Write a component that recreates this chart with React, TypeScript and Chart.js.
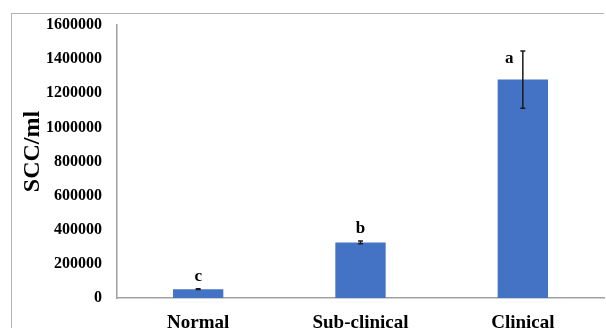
import React, { useEffect, useRef } from "react";
import { Chart, registerables } from "chart.js";

Chart.register(...registerables);

const categories = ["Normal", "Sub-clinical", "Clinical"];
const sccValues = [52000, 326000, 1280000];
const sccErrors = [2500, 8000, 168000];
const groupLetters = ["c", "b", "a"];
const yTickMax = 1600000;
const yTickStep = 200000;
const axisTitle = "SCC/ml";

const FONT = "'Liberation Serif', 'Times New Roman', serif";

const extrasPlugin = {
  id: "extras",
  afterDatasetsDraw(chart: any) {
    const { ctx, chartArea } = chart;
    const meta = chart.getDatasetMeta(0);
    const y = chart.scales.y;
    ctx.save();
    // error bars
    ctx.strokeStyle = "#1a1a1a";
    ctx.lineWidth = 1.5;
    meta.data.forEach((bar: any, i: number) => {
      const x = bar.x;
      const top = y.getPixelForValue(sccValues[i] + sccErrors[i]);
      const bot = y.getPixelForValue(sccValues[i] - sccErrors[i]);
      ctx.beginPath();
      ctx.moveTo(x, top);
      ctx.lineTo(x, bot);
      ctx.moveTo(x - 2.5, top);
      ctx.lineTo(x + 2.5, top);
      ctx.moveTo(x - 2.5, bot);
      ctx.lineTo(x + 2.5, bot);
      ctx.stroke();
    });
    // letters
    ctx.fillStyle = "#000";
    ctx.font = `bold 17px ${FONT}`;
    ctx.textAlign = "center";
    ctx.textBaseline = "alphabetic";
    meta.data.forEach((bar: any, i: number) => {
      const top = y.getPixelForValue(sccValues[i] + sccErrors[i]);
      const bot = y.getPixelForValue(sccValues[i] - sccErrors[i]);
      if (bot - top > 30) {
        ctx.fillText(groupLetters[i], bar.x - 13.5, top + 12);
      } else {
        ctx.fillText(groupLetters[i], bar.x, top - 8);
      }
    });
    // axis title
    ctx.font = `bold 24px ${FONT}`;
    ctx.textBaseline = "middle";
    ctx.translate(chartArea.left - 84, (chartArea.top + chartArea.bottom) / 2 - 10);
    ctx.rotate(-Math.PI / 2);
    ctx.fillText(axisTitle, 0, 0);
    ctx.restore();
  },
};

export default function App() {
  const ref = useRef<HTMLCanvasElement>(null);
  useEffect(() => {
    if (!ref.current) return;
    const chart = new Chart(ref.current, {
      type: "bar",
      data: {
        labels: categories,
        datasets: [
          {
            data: sccValues,
            backgroundColor: "#4472C4",
            borderWidth: 0,
            categoryPercentage: 1,
            barPercentage: 0.31,
          },
        ],
      },
      options: {
        responsive: false,
        animation: false,
        devicePixelRatio: 1,
        layout: { padding: { left: 0, top: 25, right: 2, bottom: 0 } },
        plugins: { legend: { display: false }, tooltip: { enabled: false } },
        scales: {
          x: {
            grid: { display: false, drawTicks: false },
            border: { display: true, color: "#a0a0a0", width: 1.5 },
            ticks: {
              color: "#000",
              font: { family: FONT, size: 19, weight: "bold" },
              padding: 14,
            },
            afterFit: (s: any) => {
              s.height = 30;
            },
          },
          y: {
            min: 0,
            max: yTickMax,
            grid: { display: false, drawTicks: false },
            border: { display: true, color: "#a0a0a0", width: 1.5 },
            ticks: {
              stepSize: yTickStep,
              color: "#000",
              font: { family: FONT, size: 16, weight: "bold" },
              padding: 15,
              callback: (v: any) => String(v),
            },
            afterFit: (s: any) => {
              s.width = 117;
            },
          },
        },
      },
      plugins: [extrasPlugin],
    });
    return () => chart.destroy();
  }, []);

  return (
    <div style={{ position: "absolute", left: 0, top: 0, width: 606, height: 328, overflow: "hidden", background: "#fff" }}>
      <div
        style={{
          position: "absolute",
          left: 11,
          top: 13,
          width: 592,
          height: 400,
          borderLeft: "1px solid #b4b4b4",
          borderTop: "1px solid #b4b4b4",
        }}
      />
      <canvas ref={ref} width={606} height={328} style={{ position: "absolute", left: 0, top: 0 }} />
    </div>
  );
}
